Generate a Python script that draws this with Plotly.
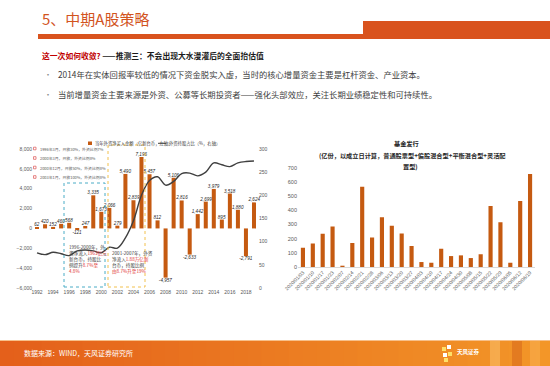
import plotly.graph_objects as go

W, H = 550, 366
def px(x): return x / W
def py(y): return 1 - y / H

FONT = "Noto Sans CJK SC"

# ---------------- data ----------------
years = list(range(1992, 2020))
net_inflow = [62, 420, 152, 460, 568, -121, 247, 3335, 1673, 2066, 279, 5490, 2839, 7196,
              5457, 812, -4957, 5106, 2816, -2633, 1442, 2699, 3979, 895, 3518, 1880, -2791, 2624]
holding_ratio = [76, 72, 77, 74, 70, 80, 82, 80, 76, 88, 86, 108, 145, 200,
                 232, 240, 222, 230, 247, 248, 242, 250, 270, 266, 262, 270, 273, 274]
year_ticks = list(range(1992, 2019, 2))

fund_dates = ["2020/01/03", "2020/01/10", "2020/01/17", "2020/01/23", "2020/02/07", "2020/02/14",
              "2020/02/21", "2020/02/28", "2020/03/06", "2020/03/13", "2020/03/20", "2020/03/27",
              "2020/04/03", "2020/04/10", "2020/04/17", "2020/04/24", "2020/04/30", "2020/05/08",
              "2020/05/15", "2020/05/22", "2020/05/29", "2020/06/05", "2020/06/12", "2020/06/19"]
fund_issue = [135, 165, 235, 285, 8, 170, 565, 208, 350, 290, 237, 148,
              35, 30, 129, 77, 82, 63, 89, 430, 315, 30, 465, 655]

BAR = "#C55A11"
GRAY = "#595959"

fig = go.Figure()
fig.add_trace(go.Bar(
    x=years, y=net_inflow, marker_color=BAR, xaxis="x", yaxis="y",
    text=[f"{v:,}" for v in net_inflow], textposition="outside", constraintext="none",
    textfont=dict(size=4.6, color="#262626", family="Arial", style="italic"),
    cliponaxis=False, showlegend=False, width=0.5,
))
fig.add_trace(go.Scatter(
    x=years, y=holding_ratio, mode="lines", line=dict(color="#404040", width=1.4, shape="spline", smoothing=1.0),
    xaxis="x", yaxis="y2", showlegend=False,
))
fig.add_trace(go.Bar(
    x=fund_dates, y=fund_issue, marker_color=BAR, xaxis="x3", yaxis="y3", showlegend=False, width=0.42,
))

ax_font = dict(size=5, color=GRAY, family="Arial")

fig.update_layout(
    template="none",
    width=W, height=H, margin=dict(l=0, r=0, t=0, b=0, pad=0), autosize=False,
    paper_bgcolor="white", plot_bgcolor="rgba(0,0,0,0)",
    showlegend=False,
    font=dict(family=FONT),
    xaxis=dict(domain=[px(33), px(258)], range=[1991.5, 2019.5], tickvals=year_ticks,
               tickfont=ax_font, showgrid=False, zeroline=False, showline=False, ticks="",
               anchor="y", automargin=False),
    yaxis=dict(domain=[py(288), py(149)], range=[-6000, 8000], dtick=2000, tickformat=",",
               tickfont=ax_font, showgrid=False, zeroline=False, showline=False, ticks="",
               automargin=False, anchor="x"),
    yaxis2=dict(overlaying="y", side="right", range=[0, 300], dtick=50, tickfont=ax_font,
                showgrid=False, zeroline=False, showline=False, anchor="x", ticks="",
                automargin=False),
    xaxis3=dict(domain=[px(298), px(535)], anchor="y3", type="category", tickangle=-45,
                tickfont=dict(size=5, color=GRAY, family="Arial"), showgrid=False, zeroline=False,
                showline=True, linecolor="#D9D9D9", linewidth=0.6, ticks="", automargin=False),
    yaxis3=dict(domain=[py(267), py(167.7)], anchor="x3", range=[0, 700], dtick=100,
                tickfont=dict(size=5.5, color=GRAY, family="Arial"), showgrid=False, zeroline=False,
                showline=False, ticks="", automargin=False),
)

shapes = []
ann = []

# title bar
shapes.append(dict(type="rect", xref="paper", yref="paper", x0=px(38), x1=1, y0=py(39), y1=py(34),
                   fillcolor="#D9531E", line_width=0, layer="below"))
shapes.append(dict(type="rect", xref="paper", yref="paper", x0=px(363), x1=1, y0=py(39), y1=py(21),
                   fillcolor="#D9531E", line_width=0, layer="below"))
ann.append(dict(text="5、中期A股策略", x=px(40), y=py(19), xanchor="left", yanchor="middle",
                font=dict(size=15, color="#D2541E", family=FONT)))

# subtitle + bullets
ann.append(dict(text="<b><span style='color:#C00000'>这一次如何收敛? </span>——推测三：不会出现大水漫灌后的全面抬估值</b>",
                x=px(40), y=py(55), xanchor="left", yanchor="middle",
                font=dict(size=7.8, color="#1a1a1a", family=FONT)))
bullets = ["2014年在实体回报率较低的情况下资金脱实入虚，当时的核心增量资金主要是杠杆资金、产业资本。",
           "当前增量资金主要来源是外资、公募等长期投资者——强化头部效应，关注长期业绩稳定性和可持续性。"]
for i, b in enumerate(bullets):
    yy = 74 + 20 * i
    ann.append(dict(text="•", x=px(42), y=py(yy), xanchor="left", yanchor="middle",
                    font=dict(size=8, color="#8C8C8C", family=FONT)))
    ann.append(dict(text=b, x=px(56), y=py(yy), xanchor="left", yanchor="middle",
                    font=dict(size=8.3, color="#404040", family=FONT)))

# left chart legend
shapes.append(dict(type="rect", xref="paper", yref="paper", x0=px(88), x1=px(92), y0=py(145), y1=py(141.5),
                   fillcolor=BAR, line_width=0))
ann.append(dict(text="当年外资净买入金额（亿新台币，左轴）", x=px(93), y=py(143.3), xanchor="left", yanchor="middle",
                font=dict(size=4.3, color="#404040", family=FONT)))
shapes.append(dict(type="line", xref="paper", yref="paper", x0=px(158), x1=px(166), y0=py(143.3), y1=py(143.3),
                   line=dict(color="#404040", width=1)))
ann.append(dict(text="外资持股占比（%，右轴）", x=px(167), y=py(143.3), xanchor="left", yanchor="middle",
                font=dict(size=4.3, color="#404040", family=FONT)))

# notes list
notes = ["1996年3月，开放30%，外资比例7%",
         "2000年3月，开放，外资比例8%",
         "2000年12月，开放50%，外资比例8%",
         "2003年1月，开放100%，外资比例8%"]
for i, t in enumerate(notes):
    yy = 148.5 + 9.5 * i
    shapes.append(dict(type="rect", xref="paper", yref="paper", x0=px(33.5), x1=px(36), y0=py(yy + 1.3), y1=py(yy - 1.3),
                       fillcolor="white", line=dict(color="#E06666", width=0.8)))
    ann.append(dict(text=t, x=px(38), y=py(yy), xanchor="left", yanchor="middle",
                    font=dict(size=3.9, color=GRAY, family=FONT)))

# dashed boxes with text
shapes.append(dict(type="rect", xref="paper", yref="paper", x0=px(64), x1=px(105), y0=py(287), y1=py(183),
                   line=dict(color="#4BACC6", width=1, dash="dot"), fillcolor="rgba(0,0,0,0)"))
shapes.append(dict(type="rect", xref="paper", yref="paper", x0=px(108), x1=px(145), y0=py(287), y1=py(145),
                   line=dict(color="#F2C14E", width=1, dash="dot"), fillcolor="rgba(0,0,0,0)"))
box1 = "1996-2000年，外<br>资净流入<span style='color:#E03030'>1963亿元</span><br>新台币，持股比<br>例提升<span style='color:#E03030'>8.7%至</span><br><span style='color:#E03030'>4.8%</span>"
box2 = "2001-2007年，外资<br>净流入<span style='color:#E03030'>1.88万亿新</span><br>台币，持股比例<br><span style='color:#E03030'>由8.7%升至19%</span>"
ann.append(dict(text=box1, x=px(67), y=py(242), xanchor="left", yanchor="top", align="left",
                font=dict(size=4.6, color="#404040", family=FONT)))
ann.append(dict(text=box2, x=px(110), y=py(248), xanchor="left", yanchor="top", align="left",
                font=dict(size=4.6, color="#404040", family=FONT)))

# right chart title
ann.append(dict(text="<b>基金发行</b>", x=px(406), y=py(143), xanchor="center", yanchor="middle",
                font=dict(size=6.2, color="#262626", family=FONT)))
ann.append(dict(text="<b>(亿份，以成立日计算，普通股票型+偏股混合型+平衡混合型+灵活配</b>", x=px(412), y=py(155.5),
                xanchor="center", yanchor="middle", font=dict(size=6.2, color="#262626", family=FONT)))
ann.append(dict(text="<b>置型)</b>", x=px(410), y=py(166.5), xanchor="center", yanchor="middle",
                font=dict(size=6.2, color="#262626", family=FONT)))

# footer gradient
c0 = (228, 96, 27)
c1 = (243, 150, 40)
n = 40
for i in range(n):
    t = i / (n - 1)
    c = tuple(int(c0[k] + (c1[k] - c0[k]) * t) for k in range(3))
    shapes.append(dict(type="rect", xref="paper", yref="paper", x0=i / n, x1=(i + 1) / n + 0.002,
                       y0=0, y1=py(340), fillcolor=f"rgb{c}", line_width=0, layer="below"))
shapes.append(dict(type="line", xref="paper", yref="paper", x0=0, x1=1, y0=py(340.5), y1=py(340.5),
                   line=dict(color="#F7C08A", width=1)))
for x0, x1, col in [(490, 500, "rgba(255,220,150,0.35)"), (512, 522, "rgba(200,80,20,0.35)"),
                    (530, 540, "rgba(255,200,120,0.3)")]:
    shapes.append(dict(type="rect", xref="paper", yref="paper", x0=px(x0), x1=px(x1), y0=0, y1=py(341),
                       fillcolor=col, line_width=0))
ann.append(dict(text="数据来源：WIND，天风证券研究所", x=px(22), y=py(353), xanchor="left", yanchor="middle",
                font=dict(size=7, color="white", family=FONT)))
for (x0, y0, col) in [(442, 347, "#FFE066"), (447, 345, "white"), (443, 353, "white"), (448, 352, "#FFE066"),
                      (444, 358, "#FFE066")]:
    shapes.append(dict(type="rect", xref="paper", yref="paper", x0=px(x0), x1=px(x0 + 4), y0=py(y0 + 4), y1=py(y0),
                       fillcolor=col, line_width=0))
ann.append(dict(text="<b>天风证券</b>", x=px(455), y=py(352), xanchor="left", yanchor="middle",
                font=dict(size=5.5, color="white", family=FONT)))

for a in ann:
    a.setdefault("xref", "paper")
    a.setdefault("yref", "paper")
    a.setdefault("showarrow", False)

fig.update_layout(shapes=shapes, annotations=ann)
fig.write_html("out.html", config={"displayModeBar": False},
               post_script="document.body.style.margin='0';document.body.style.overflow='hidden';")
